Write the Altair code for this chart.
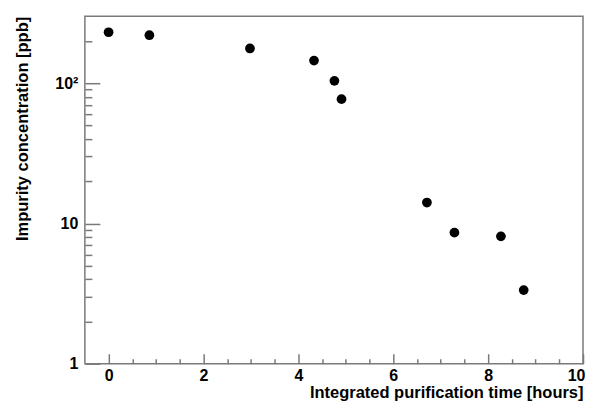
import altair as alt
import pandas as pd

time_h = [0.0, 0.86, 2.98, 4.33, 4.76, 4.91, 6.71, 7.29, 8.27, 8.75]
conc_ppb = [231, 220, 177, 145, 104, 77, 14.1, 8.6, 8.1, 3.35]

x_major = [0, 2, 4, 6, 8, 10]
x_minor = [0.5, 1, 1.5, 2.5, 3, 3.5, 4.5, 5, 5.5, 6.5, 7, 7.5, 8.5, 9, 9.5]
y_major = [1, 10, 100]
y_minor = [2, 3, 4, 5, 6, 7, 8, 9, 20, 30, 40, 50, 60, 70, 80, 90, 200]

df = pd.DataFrame({"t": time_h, "c": conc_ppb})

GRAY = "#7a7a7a"
FONT = "Liberation Sans"

xscale = alt.Scale(domain=[-0.5, 10], nice=False, zero=False)
yscale = alt.Scale(type="log", domain=[1, 300], nice=False)

base = alt.Chart(df)

main = base.mark_circle(size=95, color="black", opacity=1).encode(
    x=alt.X("t:Q", scale=xscale, axis=alt.Axis(
        orient="bottom", values=x_major, tickSize=10, offset=-10, domain=False,
        labelPadding=4, labelFontSize=16, labelFontWeight="bold", labelColor="black",
        labelFont=FONT, tickColor=GRAY, tickWidth=1.5, labelFlush=True,
        labelFlushOffset=2,
        title="Integrated purification time [hours]", titleAnchor="end",
        titleFont=FONT, titleFontSize=16.5, titleFontWeight="bold", titleColor="black",
        titlePadding=1, format="d")),
    y=alt.Y("c:Q", scale=yscale, axis=alt.Axis(
        orient="left", values=y_major, tickSize=15, offset=-15, domain=False,
        labelPadding=7, labelFontSize=16, labelFontWeight="bold", labelColor="black",
        labelFont=FONT, tickColor=GRAY, tickWidth=1.5, labelFlush=False,
        labelExpr="datum.value >= 100 ? '10\u00b2' : format(datum.value, 'd')",
        title="Impurity concentration [ppb]", titleAnchor="end",
        titleFont=FONT, titleFontSize=16.5, titleFontWeight="bold", titleColor="black",
        titlePadding=24)),
)

minor = base.mark_circle(size=95, opacity=0).encode(
    x=alt.X("t:Q", scale=xscale, axis=alt.Axis(
        orient="bottom", values=x_minor, tickSize=5, offset=-5, domain=False,
        labels=False, title=None, tickColor=GRAY, tickWidth=1.5)),
    y=alt.Y("c:Q", scale=yscale, axis=alt.Axis(
        orient="left", values=y_minor, tickSize=7, offset=-7, domain=False,
        labels=False, title=None, tickColor=GRAY, tickWidth=1.5)),
)

chart = alt.layer(main, minor).resolve_axis(x="independent", y="independent").properties(
    width=499, height=348,
    autosize=alt.AutoSizeParams(type="none"),
    padding={"left": 77, "top": 8, "right": 2, "bottom": 37},
).configure_view(stroke=GRAY, strokeWidth=1.5).configure_axis(grid=False)

chart.save("out.html", embed_options={"renderer": "svg", "actions": False})
